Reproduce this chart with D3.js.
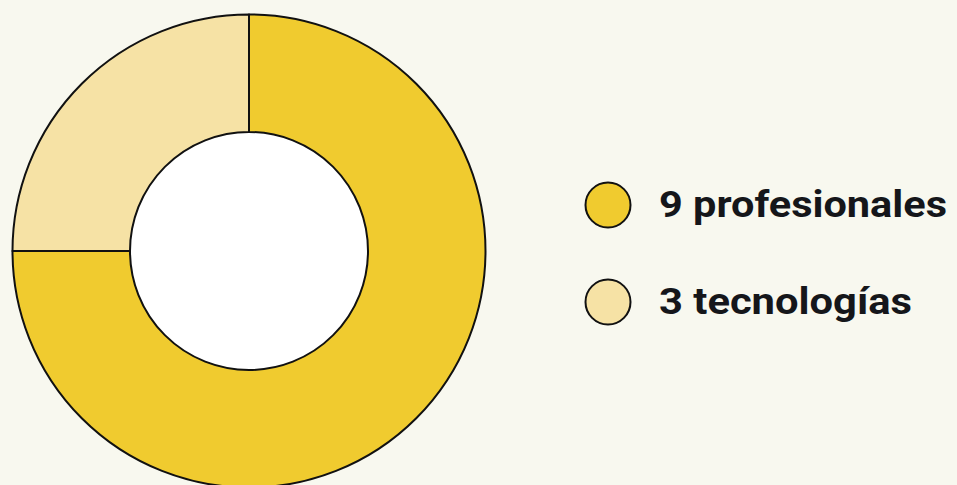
<!DOCTYPE html>
<html><head><meta charset="utf-8">
<script src="https://cdn.jsdelivr.net/npm/d3@7"></script>
<style>html,body{margin:0;padding:0;background:#F8F8EF;}svg{display:block;}</style>
</head><body>
<svg id="c" width="957" height="485"></svg>
<script>
const categories = ["profesionales", "tecnologías"];
const values = [9, 3];
const labels = ["9 profesionales", "3 tecnologías"];
const colors = ["#F0CB2F", "#F6E2A5"];

const svg = d3.select("#c");
svg.append("rect").attr("width", 957).attr("height", 485).attr("fill", "#F8F8EF");

const cx = 249, cy = 251, rOut = 236.5, rIn = 119;
const pie = d3.pie().sort(null).value(d => d)(values);
const arc = d3.arc().innerRadius(rIn).outerRadius(rOut);
const g = svg.append("g").attr("transform", `translate(${cx},${cy})`);
g.append("circle").attr("r", rIn).attr("fill", "#ffffff");
g.selectAll("path").data(pie).join("path")
  .attr("d", arc)
  .attr("fill", (d, i) => colors[i])
  .attr("stroke", "#111")
  .attr("stroke-width", 2)
  .attr("stroke-linejoin", "round");

const ly = d3.scalePoint().domain(categories).range([205, 302]);
const lg = svg.append("g");
const items = lg.selectAll("g").data(categories).join("g")
  .attr("transform", d => `translate(0,${ly(d)})`);
items.append("circle").attr("cx", 608).attr("cy", 0).attr("r", 22.5)
  .attr("fill", (d, i) => colors[i]).attr("stroke", "#111").attr("stroke-width", 2);
const widths = [288, 253];
items.append("text").attr("x", 659).attr("y", 12)
  .attr("font-family", "Roboto, 'DejaVu Sans', sans-serif")
  .attr("font-weight", "bold").attr("font-size", 37)
  .attr("fill", "#15161a")
  .attr("textLength", (d, i) => widths[i]).attr("lengthAdjust", "spacingAndGlyphs")
  .text((d, i) => labels[i]);
</script>
</body></html>
